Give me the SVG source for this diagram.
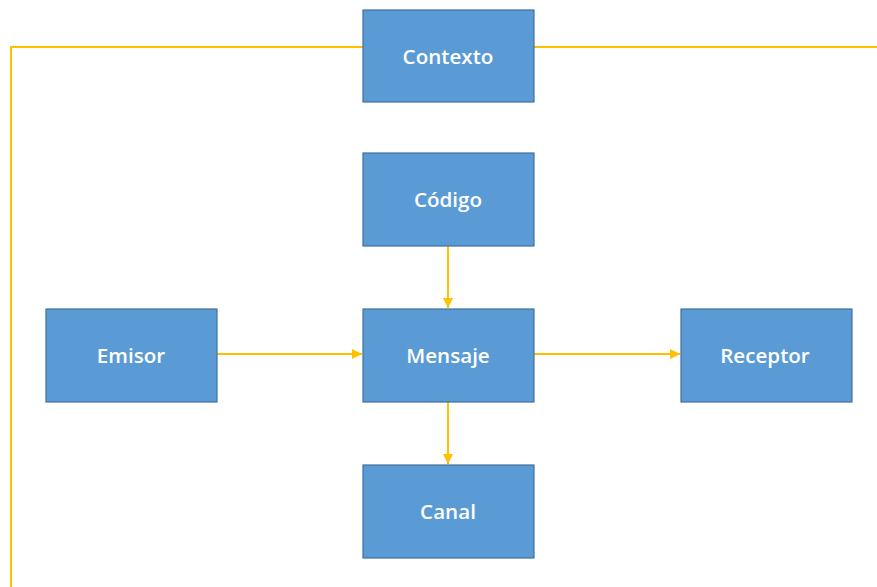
<svg xmlns="http://www.w3.org/2000/svg" width="877" height="587" viewBox="0 0 877 587">
<style>
.box{fill:#5B9BD5;stroke:#41719C;stroke-width:1.2}
.lbl{font-family:"Open Sans","Liberation Sans",sans-serif;font-size:20.6px;font-weight:600;fill:#FFFFFF;text-anchor:middle;dominant-baseline:central}
.con{fill:none;stroke:#FFC000;stroke-width:2}
</style>
<defs>
<marker id="ah" viewBox="0 0 10 10" refX="10" refY="5" markerWidth="5" markerHeight="5" markerUnits="strokeWidth" orient="auto">
<path d="M0,0 L10,5 L0,10 z" fill="#FFC000"/>
</marker>
</defs>
<rect width="877" height="587" fill="#FFFFFF"/>
<g id="connectors">
<polyline class="con" points="363,47 11,47 11,587"/>
<line class="con" x1="534" y1="47" x2="877" y2="47"/>
<line class="con" x1="448" y1="246" x2="448" y2="308" marker-end="url(#ah)"/>
<line class="con" x1="217" y1="354" x2="362" y2="354" marker-end="url(#ah)"/>
<line class="con" x1="534" y1="354" x2="680" y2="354" marker-end="url(#ah)"/>
<line class="con" x1="448" y1="402" x2="448" y2="464" marker-end="url(#ah)"/>
</g>
<g id="contexto"><rect class="box" x="363" y="10" width="171" height="92"/><text class="lbl" x="448" y="56">Contexto</text></g>
<g id="codigo"><rect class="box" x="363" y="153" width="171" height="93"/><text class="lbl" x="448" y="199">Código</text></g>
<g id="mensaje"><rect class="box" x="363" y="309" width="171" height="93"/><text class="lbl" x="448" y="355">Mensaje</text></g>
<g id="emisor"><rect class="box" x="46" y="309" width="171" height="93"/><text class="lbl" x="131" y="355">Emisor</text></g>
<g id="receptor"><rect class="box" x="681" y="309" width="171" height="93"/><text class="lbl" x="765" y="355">Receptor</text></g>
<g id="canal"><rect class="box" x="363" y="465" width="171" height="93"/><text class="lbl" x="448" y="511">Canal</text></g>
</svg>
